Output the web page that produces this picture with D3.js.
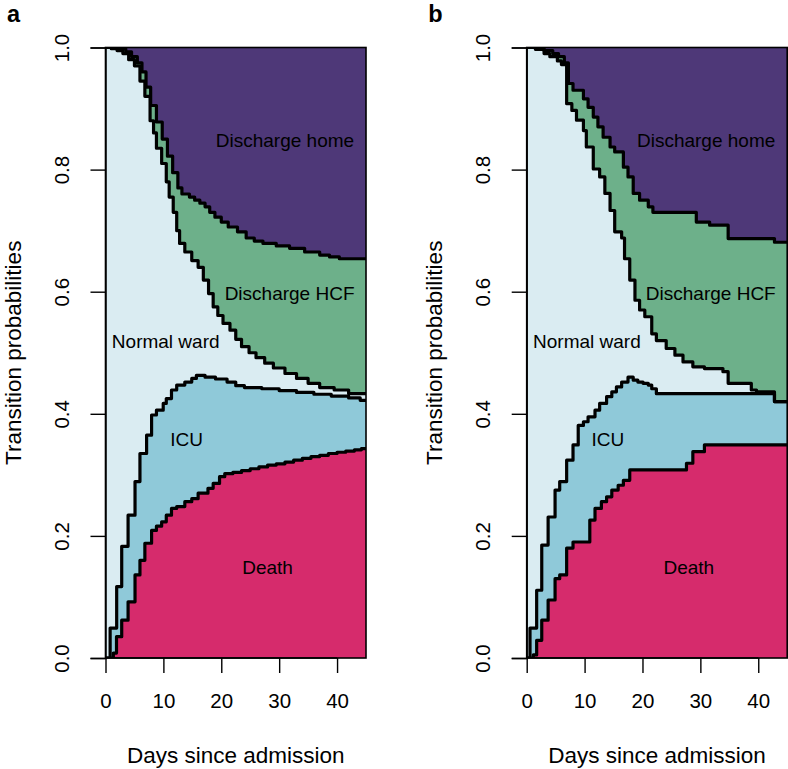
<!DOCTYPE html>
<html><head><meta charset="utf-8">
<script src="https://cdn.jsdelivr.net/npm/d3@7"></script>
<style>
body{margin:0;background:#fff}
svg{display:block}
text{font-family:"Liberation Sans",Arial,Helvetica,sans-serif;fill:#000}
</style>
</head><body>
<svg id="chart" width="788" height="769"></svg>
<script>
// ---------- data ----------
const xTicks = [0, 10, 20, 30, 40];
const yTicks = [0, 0.2, 0.4, 0.6, 0.8, 1.0];
const panelLabels = ["a", "b"];
const stateNames = ["Death", "ICU", "Normal ward", "Discharge HCF", "Discharge home"];
const stateColors = ["#D62B6C", "#8FC9D9", "#DAECF2", "#6DB08A", "#4E3878"];
// label anchor positions in data units (day, probability)
const labelDay = [28, 14, 10.4, 31.8, 31];
const labelProb = [0.148, 0.358, 0.519, 0.597, 0.848];

// Panel a: cumulative boundaries (step times in days, cumulative probability)
const deathA_t = [0, 1.35, 1.9, 2.8, 3.9, 5.1, 5.95, 6.8, 7.96, 8.8, 9.7, 10.5, 11.4, 12.3, 13.7, 14.9, 16, 17.7, 18.6, 19.7, 20.6, 22, 23.5, 25, 26.5, 28, 29.5, 31, 32.5, 34, 35.5, 37, 38.5, 40, 41.5, 43, 44.2];
const deathA_p = [0, 0.008, 0.035, 0.062, 0.092, 0.136, 0.160, 0.188, 0.209, 0.216, 0.223, 0.234, 0.245, 0.248, 0.256, 0.261, 0.270, 0.278, 0.286, 0.297, 0.302, 0.304, 0.307, 0.310, 0.313, 0.316, 0.318, 0.321, 0.324, 0.327, 0.330, 0.332, 0.335, 0.337, 0.339, 0.341, 0.343];
const icuA_t = [0, 0.8, 1.93, 2.8, 3.9, 5.1, 5.95, 7.1, 7.96, 8.8, 9.97, 10.5, 11.4, 12.3, 13.7, 14.9, 15.7, 17.2, 19, 21, 22.5, 24, 27, 30, 33, 36, 39, 42, 44];
const icuA_p = [0, 0.049, 0.117, 0.183, 0.234, 0.289, 0.335, 0.365, 0.398, 0.406, 0.417, 0.425, 0.439, 0.447, 0.452, 0.458, 0.463, 0.460, 0.457, 0.452, 0.446, 0.443, 0.441, 0.438, 0.435, 0.432, 0.429, 0.426, 0.422];
const wardA_t = [0, 1, 2, 3, 4, 5, 5.95, 6.8, 7.7, 8.3, 8.8, 9.7, 10.5, 11.0, 11.7, 12.3, 12.8, 13.7, 14.9, 16.0, 16.9, 17.8, 18.6, 19.4, 20.3, 21.5, 22.5, 23.5, 24.8, 26, 27.5, 29, 31, 33, 35, 37, 39.5, 42];
const wardA_p = [1.0, 0.998, 0.995, 0.99, 0.98, 0.97, 0.945, 0.92, 0.88, 0.86, 0.835, 0.81, 0.78, 0.755, 0.73, 0.70, 0.679, 0.665, 0.651, 0.640, 0.619, 0.597, 0.575, 0.561, 0.548, 0.537, 0.522, 0.510, 0.500, 0.492, 0.483, 0.475, 0.466, 0.458, 0.450, 0.443, 0.439, 0.433];
const hcfA_t = [0, 2, 3.5, 4.5, 5.5, 6.3, 7, 7.8, 8.8, 9.8, 10.7, 11.6, 12.5, 13.2, 14.5, 15.4, 16.3, 17.2, 18, 18.9, 20, 21.2, 22.8, 24.3, 25.7, 27.2, 29.5, 31.8, 34.4, 37, 38.7, 40.4];
const hcfA_p = [1.0, 0.998, 0.993, 0.985, 0.975, 0.96, 0.935, 0.905, 0.878, 0.85, 0.822, 0.795, 0.77, 0.76, 0.755, 0.75, 0.745, 0.739, 0.73, 0.722, 0.714, 0.706, 0.698, 0.688, 0.683, 0.679, 0.675, 0.671, 0.665, 0.66, 0.657, 0.654];

// Panel b
const deathB_t = [0, 1.14, 1.72, 2.6, 3.7, 4.9, 5.7, 6.9, 8.0, 10.9, 11.8, 12.9, 13.8, 14.7, 15.8, 16.7, 17.8, 27.6, 28.7, 30.7];
const deathB_p = [0, 0.005, 0.029, 0.062, 0.095, 0.130, 0.136, 0.180, 0.190, 0.226, 0.245, 0.256, 0.264, 0.275, 0.283, 0.291, 0.308, 0.319, 0.338, 0.349];
const icuB_t = [0, 0.57, 1.72, 2.6, 3.7, 4.9, 5.7, 6.9, 8.0, 8.9, 9.8, 10.6, 11.8, 12.6, 13.8, 14.7, 15.5, 16.4, 17.5, 18.4, 19.2, 20.1, 21, 21.6, 22.4, 42.8];
const icuB_p = [0, 0.049, 0.111, 0.185, 0.231, 0.275, 0.289, 0.324, 0.349, 0.381, 0.387, 0.395, 0.406, 0.417, 0.428, 0.436, 0.444, 0.452, 0.460, 0.455, 0.452, 0.450, 0.447, 0.441, 0.433, 0.42];
const wardB_t = [0, 1.5, 3, 4, 5.3, 6, 6.9, 7.8, 8.6, 9.8, 10.3, 11.5, 12.6, 13.5, 14.4, 15.2, 16.4, 16.9, 17.8, 18.7, 19.5, 20.4, 21.6, 22.4, 24.1, 25.6, 27, 28.7, 30.7, 33.9, 34.8, 38.8, 39.7, 42.8];
const wardB_p = [1.0, 0.997, 0.99, 0.985, 0.978, 0.972, 0.908, 0.897, 0.881, 0.864, 0.837, 0.801, 0.788, 0.761, 0.733, 0.698, 0.688, 0.654, 0.619, 0.586, 0.570, 0.559, 0.531, 0.520, 0.507, 0.496, 0.485, 0.477, 0.474, 0.469, 0.450, 0.439, 0.436, 0.42];
const hcfB_t = [0, 1.5, 3, 4.5, 5.5, 6.5, 7.2, 8.0, 9.8, 10.6, 11.5, 12.3, 13.2, 14.4, 15.2, 16.7, 17.5, 18.4, 19.5, 21, 21.8, 29.3, 31.6, 34.8, 42.8];
const hcfB_p = [1.0, 0.998, 0.995, 0.99, 0.985, 0.975, 0.941, 0.930, 0.916, 0.902, 0.886, 0.870, 0.853, 0.837, 0.829, 0.804, 0.788, 0.761, 0.750, 0.739, 0.730, 0.714, 0.709, 0.687, 0.681];

const maxDay = 45;

// ---------- drawing ----------
const svg = d3.select("#chart");
const FONT_AX = 20.5, FONT_TITLE = 22.5, FONT_LBL = 19;

function zip(t, p) {
  const pts = t.map((d, i) => [d, p[i]]);
  pts.push([maxDay, p[p.length - 1]]);
  return pts;
}

function drawPanel(idx, left, bounds) {
  const top = 47.5, bottom = 658, right = left + 260.5;
  const x = d3.scaleLinear().domain([0, maxDay]).range([left, right]);
  const y = d3.scaleLinear().domain([0, 1]).range([bottom, top]);
  const g = svg.append("g");
  const clipId = "clip" + idx;
  svg.append("clipPath").attr("id", clipId).append("rect")
    .attr("x", left).attr("y", top).attr("width", right - left).attr("height", bottom - top);
  const pg = g.append("g").attr("clip-path", `url(#${clipId})`);

  // top state fills everything
  pg.append("rect").attr("x", left).attr("y", top).attr("width", right - left).attr("height", bottom - top)
    .attr("fill", stateColors[4]);
  const area = d3.area().curve(d3.curveStepAfter).x(d => x(d[0])).y0(y(0)).y1(d => y(d[1]));
  const line = d3.line().curve(d3.curveStepAfter).x(d => x(d[0])).y(d => y(d[1]));
  // bounds: [death, icu, ward, hcf] cumulative
  for (let k = 3; k >= 0; k--) {
    pg.append("path").datum(bounds[k]).attr("d", area).attr("fill", stateColors[k]);
  }
  for (let k = 3; k >= 0; k--) {
    pg.append("path").datum(bounds[k]).attr("d", line).attr("fill", "none")
      .attr("stroke", "#000").attr("stroke-width", 3.2)
      .attr("stroke-linejoin", "round").attr("stroke-linecap", "round");
  }

  // state labels
  stateNames.forEach((s, i) => {
    g.append("text").attr("x", x(labelDay[i])).attr("y", y(labelProb[i]))
      .attr("dy", "0.35em").attr("text-anchor", "middle")
      .style("font-size", FONT_LBL + "px").text(s);
  });

  // box
  g.append("rect").attr("x", left).attr("y", top).attr("width", right - left).attr("height", bottom - top)
    .attr("fill", "none").attr("stroke", "#000").attr("stroke-width", 1.6);

  // x axis
  const xa = g.append("g").attr("transform", `translate(0,${bottom})`)
    .call(d3.axisBottom(x).tickValues(xTicks).tickSize(15).tickPadding(20).tickFormat(d3.format("d")));
  xa.select(".domain").attr("d", `M${x(0)},0H${x(40)}`).attr("stroke-width", 1.4);
  xa.selectAll(".tick line").attr("stroke-width", 1.4);
  xa.selectAll("text").style("font-size", FONT_AX + "px").attr("font-family", null);

  // y axis
  const ya = g.append("g").attr("transform", `translate(${left},0)`)
    .call(d3.axisLeft(y).tickValues(yTicks).tickSize(15).tickFormat(d3.format(".1f")));
  ya.select(".domain").attr("stroke-width", 1.4);
  ya.selectAll(".tick line").attr("stroke-width", 1.4);
  ya.selectAll("text").attr("x", 0).attr("dy", 0).attr("text-anchor", "middle")
    .attr("transform", "translate(-36.5,0) rotate(-90)")
    .style("font-size", FONT_AX + "px");

  // axis titles
  g.append("text").attr("x", (left + right) / 2).attr("y", 763).attr("text-anchor", "middle")
    .style("font-size", FONT_TITLE + "px").text("Days since admission");
  g.append("text").attr("transform", `translate(${left - 85},${(top + bottom) / 2}) rotate(-90)`)
    .attr("text-anchor", "middle").style("font-size", FONT_TITLE + "px").text("Transition probabilities");

  // panel label
  g.append("text").attr("x", left - 98.5).attr("y", 21.5).style("font-size", "23.5px")
    .style("font-weight", "bold").text(panelLabels[idx]);
}

drawPanel(0, 105.5, [zip(deathA_t, deathA_p), zip(icuA_t, icuA_p), zip(wardA_t, wardA_p), zip(hcfA_t, hcfA_p)]);
drawPanel(1, 526.7, [zip(deathB_t, deathB_p), zip(icuB_t, icuB_p), zip(wardB_t, wardB_p), zip(hcfB_t, hcfB_p)]);
</script>
</body></html>
